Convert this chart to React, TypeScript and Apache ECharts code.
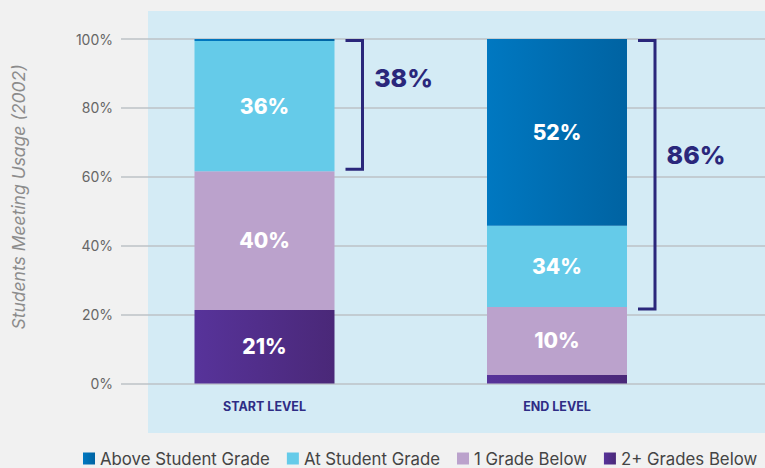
import React, { useEffect, useRef } from "react";
import * as echarts from "echarts";

const categories = ["START LEVEL", "END LEVEL"];
const legendNames = ["Above Student Grade", "At Student Grade", "1 Grade Below", "2+ Grades Below"];

// segment heights as drawn (percent of bar)
const twoPlusBelow = [21.3, 2.5];
const oneBelow = [40.3, 19.7];
const atGrade = [37.8, 23.6];
const aboveGrade = [1.1, 54.5];

// printed labels
const twoPlusBelowLabels = ["21%", ""];
const oneBelowLabels = ["40%", "10%"];
const atGradeLabels = ["36%", "34%"];
const aboveGradeLabels = ["", "52%"];

// brackets: [category index, low, high, label anchor]
const brackets = [
  [0, 62.2, 99.6, 88.7],
  [1, 21.6, 99.6, 66.3],
];
const bracketLabels = ["38%", "86%"];

const yTicks = { min: 0, max: 100, interval: 20 };
const yTitle = "Students Meeting Usage (2002)";

const FONT = "Inter, 'Open Sans', sans-serif";

export default function App() {
  const ref = useRef<HTMLDivElement>(null);
  useEffect(() => {
    document.body.style.margin = "0";
    const chart = echarts.init(ref.current!, null, { renderer: "svg" });
    const labelStyle = (labels: string[]) => ({
      show: true,
      position: "inside",
      color: "#ffffff",
      fontFamily: FONT,
      fontWeight: 800,
      fontSize: 21,
      formatter: (p: any) => labels[p.dataIndex],
    });
    const barCommon = {
      type: "bar",
      stack: "total",
      xAxisIndex: 1,
      yAxisIndex: 1,
      barWidth: 140,
    };
    const navy = "#2a277b";
    chart.setOption({
      animation: false,
      backgroundColor: "#f1f1f1",
      textStyle: { fontFamily: FONT },
      graphic: [
        {
          type: "rect",
          z: -100,
          shape: { x: 148, y: 11, width: 620, height: 422 },
          style: { fill: "#d4ebf5" },
        },
        {
          type: "text",
          x: 18,
          y: 197,
          rotation: Math.PI / 2,
          style: {
            text: yTitle,
            fill: "#8c8c8c",
            font: `italic 17.5px ${FONT}`,
            align: "center",
            verticalAlign: "middle",
          },
        },
      ],
      legend: {
        left: 83,
        top: 450,
        padding: 0,
        width: 900,
        itemWidth: 12,
        itemHeight: 12,
        itemGap: 17,
        icon: "rect",
        data: legendNames,
        textStyle: { color: "#444444", fontSize: 16.8, fontFamily: FONT, lineHeight: 16 },
      },
      grid: [
        { left: 121, right: 0, top: 39, bottom: 84.5 },
        { left: 118.25, width: 585, top: 39, bottom: 84.5 },
      ],
      xAxis: [
        { gridIndex: 0, type: "category", data: categories, show: false },
        {
          gridIndex: 1,
          type: "category",
          data: categories,
          axisLine: { show: false },
          axisTick: { show: false },
          axisLabel: {
            color: "#2e2c85",
            fontWeight: 700,
            fontSize: 12.5,
            margin: 16,
            fontFamily: FONT,
          },
        },
      ],
      yAxis: [
        {
          gridIndex: 0,
          type: "value",
          min: yTicks.min,
          max: yTicks.max,
          interval: yTicks.interval,
          axisLine: { show: false },
          axisTick: { show: false },
          axisLabel: {
            formatter: "{value}%",
            color: "#666666",
            fontSize: 14,
            margin: 8,
            fontFamily: FONT,
          },
          splitLine: { lineStyle: { color: "#bcc2c6", width: 1.5 } },
        },
        {
          gridIndex: 1,
          type: "value",
          min: yTicks.min,
          max: yTicks.max,
          show: false,
          splitLine: { show: false },
        },
      ],
      series: [
        {
          ...barCommon,
          name: legendNames[3],
          data: twoPlusBelow,
          itemStyle: {
            color: new echarts.graphic.LinearGradient(0, 0, 1, 0, [
              { offset: 0, color: "#57339a" },
              { offset: 1, color: "#4a2878" },
            ]),
          },
          label: labelStyle(twoPlusBelowLabels),
        },
        {
          ...barCommon,
          name: legendNames[2],
          data: oneBelow,
          itemStyle: { color: "#bba2cc" },
          label: labelStyle(oneBelowLabels),
        },
        {
          ...barCommon,
          name: legendNames[1],
          data: atGrade,
          itemStyle: { color: "#65cbe9" },
          label: labelStyle(atGradeLabels),
        },
        {
          ...barCommon,
          name: legendNames[0],
          data: aboveGrade,
          itemStyle: {
            color: new echarts.graphic.LinearGradient(0, 0, 1, 0, [
              { offset: 0, color: "#0078c1" },
              { offset: 1, color: "#0063a2" },
            ]),
          },
          label: labelStyle(aboveGradeLabels),
        },
        {
          type: "custom",
          xAxisIndex: 1,
          yAxisIndex: 1,
          data: brackets,
          silent: true,
          renderItem: (params: any, api: any) => {
            const c = api.value(0);
            const top = api.coord([c, api.value(2)]);
            const bot = api.coord([c, api.value(1)]);
            const lab = api.coord([c, api.value(3)]);
            const cx = top[0];
            return {
              type: "group",
              children: [
                {
                  type: "polyline",
                  shape: {
                    points: [
                      [cx + 81, top[1]],
                      [cx + 98, top[1]],
                      [cx + 98, bot[1]],
                      [cx + 81, bot[1]],
                    ],
                  },
                  style: { stroke: navy, lineWidth: 3, fill: null },
                },
                {
                  type: "text",
                  x: cx + 139,
                  y: lab[1],
                  style: {
                    text: bracketLabels[params.dataIndex],
                    fill: navy,
                    font: `800 25px ${FONT}`,
                    align: "center",
                    verticalAlign: "middle",
                  },
                },
              ],
            };
          },
        },
      ],
    });
    return () => chart.dispose();
  }, []);
  return (
    <div
      ref={ref}
      style={{ position: "fixed", left: 0, top: 0, width: 765, height: 468 }}
    />
  );
}
